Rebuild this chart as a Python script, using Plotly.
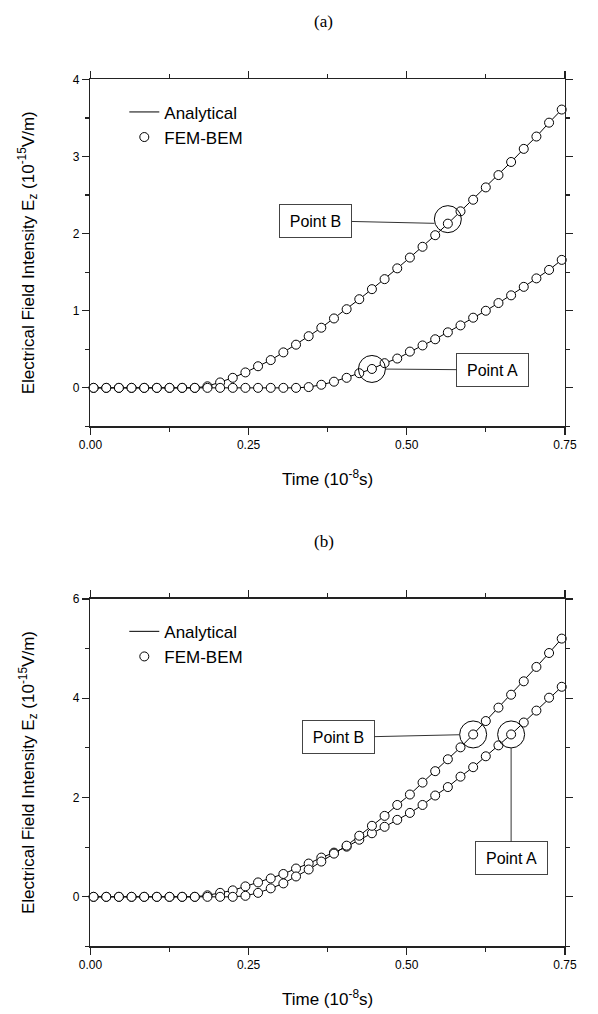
import plotly.graph_objects as go

# ---------------- data ----------------
time = [0.005, 0.025, 0.045, 0.065, 0.085, 0.105, 0.125, 0.145, 0.165, 0.185,
        0.205, 0.225, 0.245, 0.265, 0.285, 0.305, 0.325, 0.345, 0.365, 0.385,
        0.405, 0.425, 0.445, 0.465, 0.485, 0.505, 0.525, 0.545, 0.565, 0.585,
        0.605, 0.625, 0.645, 0.665, 0.685, 0.705, 0.725, 0.745]

# panel (a)
a_point_b = [0, 0, 0, 0, 0, 0, 0, 0, 0, 0.02,
             0.07, 0.13, 0.20, 0.28, 0.36, 0.46, 0.56, 0.67, 0.78, 0.90,
             1.02, 1.15, 1.28, 1.41, 1.55, 1.69, 1.83, 1.98, 2.13, 2.29,
             2.44, 2.60, 2.76, 2.93, 3.10, 3.26, 3.44, 3.61]
a_point_a = [0, 0, 0, 0, 0, 0, 0, 0, 0, 0,
             0, 0, 0, 0, 0, 0, 0, 0.01, 0.04, 0.08,
             0.13, 0.19, 0.245, 0.32, 0.38, 0.47, 0.55, 0.63, 0.72, 0.81,
             0.91, 1.00, 1.10, 1.20, 1.31, 1.42, 1.53, 1.66]

# panel (b)
b_point_a = [0, 0, 0, 0, 0, 0, 0, 0, 0, 0.03,
             0.08, 0.13, 0.21, 0.29, 0.37, 0.46, 0.57, 0.67, 0.79, 0.89,
             1.01, 1.15, 1.28, 1.41, 1.55, 1.69, 1.85, 2.04, 2.21, 2.42,
             2.61, 2.83, 3.05, 3.27, 3.51, 3.75, 4.01, 4.23]
b_point_b = [0, 0, 0, 0, 0, 0, 0, 0, 0, 0,
             0, 0, 0.02, 0.08, 0.17, 0.27, 0.41, 0.55, 0.71, 0.87,
             1.03, 1.23, 1.43, 1.63, 1.85, 2.06, 2.30, 2.53, 2.77, 3.01,
             3.27, 3.54, 3.81, 4.07, 4.34, 4.63, 4.91, 5.20]

x_ticks = [0, 0.25, 0.5, 0.75]
x_ticktext = ["0.00", "0.25", "0.50", "0.75"]
panel_labels = ["(a)", "(b)"]
series_names = ["Analytical", "FEM-BEM"]
x_title = "Time (10<sup>-8</sup>s)"
y_title = "Electrical Field Intensity E<sub>z</sub> (10<sup>-15</sup>V/m)"

# circled sample indices
idx_a_B = 28
idx_a_A = 22
idx_b_B = 30
idx_b_A = 33

# ---------------- layout geometry ----------------
W, H = 598, 1014
def px(x):
    return x / W
def py(y):
    return 1 - y / H

XL, XR = 81.7, 576.0
TOP1, BOT1 = 73.0, 422.3
TOP2, BOT2 = 596.0, 946.0

fig = go.Figure()

def add_panel(xa, ya, legend, curves):
    for i, ys in enumerate(curves):
        fig.add_trace(go.Scatter(
            x=time, y=ys, mode="lines", name=series_names[0],
            line=dict(color="black", width=1),
            xaxis=xa, yaxis=ya, legend=legend,
            showlegend=(i == 0), cliponaxis=False, hoverinfo="skip"))
    for i, ys in enumerate(curves):
        fig.add_trace(go.Scatter(
            x=time, y=ys, mode="markers", name=series_names[1],
            marker=dict(symbol="circle", size=9, color="white",
                        line=dict(color="black", width=1)),
            xaxis=xa, yaxis=ya, legend=legend,
            showlegend=(i == 0), cliponaxis=False, hoverinfo="skip"))

add_panel("x", "y", "legend", [a_point_b, a_point_a])
add_panel("x2", "y2", "legend2", [b_point_a, b_point_b])

axis_common = dict(
    showline=True, linecolor="#222", linewidth=1.5, mirror="ticks",
    ticks="outside", ticklen=7, tickwidth=1.3, tickcolor="#222",
    showgrid=False, zeroline=False,
    tickfont=dict(family="Arial, Liberation Sans", size=12, color="black"),
)

xaxis_common = dict(axis_common, range=[0, 0.75], tickvals=x_ticks,
                    ticktext=x_ticktext,
                    minor=dict(tickvals=[0.125, 0.375, 0.625], ticks="outside",
                               ticklen=4, tickwidth=1.3, tickcolor="#222"))

legend_common = dict(xanchor="left", yanchor="top",
                     bgcolor="rgba(0,0,0,0)", traceorder="normal",
                     font=dict(family="Arial, Liberation Sans", size=17,
                               color="black"),
                     tracegroupgap=0)

fig.update_layout(
    width=W, height=H,
    margin=dict(l=0, r=0, t=0, b=0),
    paper_bgcolor="white", plot_bgcolor="white",
    hovermode=False,
    xaxis=dict(xaxis_common, domain=[px(XL), px(XR)], anchor="y"),
    yaxis=dict(axis_common, domain=[py(BOT1), py(TOP1)], anchor="x",
               range=[-0.5, 4], tick0=0, dtick=1,
               minor=dict(dtick=0.5, ticks="outside", ticklen=4,
                          tickwidth=1.3, tickcolor="#222")),
    xaxis2=dict(xaxis_common, domain=[px(XL), px(XR)], anchor="y2"),
    yaxis2=dict(axis_common, domain=[py(BOT2), py(TOP2)], anchor="x2",
                range=[-1, 6], tick0=0, dtick=2,
                minor=dict(dtick=1, ticks="outside", ticklen=4,
                           tickwidth=1.3, tickcolor="#222")),
    legend=dict(legend_common, x=px(117), y=py(TOP1 + 15)),
    legend2=dict(legend_common, x=px(117), y=py(TOP2 + 15)),
)

annotations = []
for lbl, top in zip(panel_labels, [TOP1, TOP2]):
    annotations.append(dict(text=lbl, xref="paper", yref="paper",
                            x=px(325), y=py(top - 58), xanchor="center",
                            yanchor="middle", showarrow=False,
                            font=dict(family="Liberation Serif, Times New Roman",
                                      size=17, color="black")))
for top, bot in [(TOP1, BOT1), (TOP2, BOT2)]:
    annotations.append(dict(text=x_title, xref="paper", yref="paper",
                            x=px((XL + XR) / 2), y=py(bot + 52),
                            xanchor="center", yanchor="middle", showarrow=False,
                            font=dict(family="Arial, Liberation Sans", size=17,
                                      color="black")))
    annotations.append(dict(text=y_title, xref="paper", yref="paper",
                            x=px(17), y=py((top + bot) / 2), textangle=-90,
                            xanchor="center", yanchor="middle", showarrow=False,
                            font=dict(family="Arial, Liberation Sans", size=17,
                                      color="black")))

box_style = dict(showarrow=True, arrowhead=0, arrowwidth=1, arrowcolor="#333",
                 standoff=13.5, bordercolor="#444", borderwidth=1, borderpad=1,
                 bgcolor="white", width=69, height=30,
                 font=dict(family="Arial, Liberation Sans", size=16, color="black"))

# (axis refs, x, y, label, box offset px, circle vertical offset px)
callouts = [
    ("x", "y", time[idx_a_B], a_point_b[idx_a_B], "Point B", -132, -3, 4.5),
    ("x", "y", time[idx_a_A], a_point_a[idx_a_A], "Point A", 121, 1, 0),
    ("x2", "y2", time[idx_b_B], b_point_b[idx_b_B], "Point B", -135, 3, 0),
    ("x2", "y2", time[idx_b_A], b_point_a[idx_b_A], "Point A", 0, 124, 0),
]
shapes = []
r = 13.5
for xr, yr, xv, yv, txt, ax, ay, dy in callouts:
    annotations.append(dict(box_style, xref=xr, yref=yr, x=xv, y=yv, text=txt,
                            ax=ax, ay=ay))
    shapes.append(dict(type="circle", xref=xr, yref=yr, xsizemode="pixel",
                       ysizemode="pixel", xanchor=xv, yanchor=yv,
                       x0=-r, x1=r, y0=-r + dy, y1=r + dy,
                       line=dict(color="black", width=1)))

fig.update_layout(annotations=annotations, shapes=shapes)

fig.write_html("out.html",
               config={"displayModeBar": False, "staticPlot": True},
               post_script="document.body.style.margin='0';"
                           "document.body.style.overflow='hidden';")
